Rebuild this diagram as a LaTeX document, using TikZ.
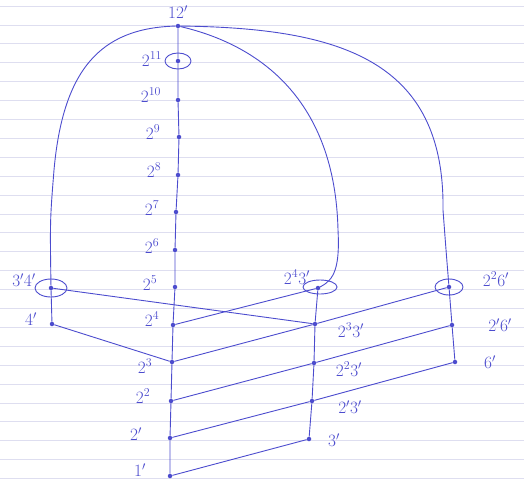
\documentclass[tikz,border=0pt]{standalone}
\usepackage{amsmath, amssymb}
\usepackage{tikz}
\usetikzlibrary{positioning}
\usepackage{xcolor}
\definecolor{ink}{RGB}{76,76,206}
\definecolor{ruleline}{RGB}{222,222,240}

\begin{document}
\begin{tikzpicture}[x=1pt, y=-1pt, every node/.style={text=ink, font=\LARGE},
    dot/.style={circle, fill=ink, inner sep=0pt, minimum size=4.5pt},
    wire/.style={draw=ink, line width=0.9pt},
    ring/.style={draw=ink, line width=0.9pt}]
                \useasboundingbox (0,0) rectangle (524,480);
                \foreach \k in {0,...,25}
                    \draw[ruleline, line width=0.7pt] (0,{6+18.9*\k}) -- (524,{6+18.9*\k});
                % chain of powers of two
                \node[dot] (n12) at (178, 26) {};
                \node[dot] (p11) at (178, 61) {};
                \node[dot] (p10) at (178, 100) {};
                \node[dot] (p9) at (179, 137) {};
                \node[dot] (p8) at (178, 175) {};
                \node[dot] (p7) at (176, 212) {};
                \node[dot] (p6) at (175, 250) {};
                \node[dot] (p5) at (175, 287) {};
                \node[dot] (p4) at (173, 325) {};
                \node[dot] (p3) at (172, 362) {};
                \node[dot] (p2) at (171, 401) {};
                \node[dot] (p1) at (170, 438) {};
                \node[dot] (n1) at (170, 476) {};
                % left, middle and right columns
                \node[dot] (n34) at (51, 288) {};
                \node[dot] (n4) at (52, 324) {};
                \node[dot] (m4) at (318, 288) {};
                \node[dot] (m3) at (315, 324) {};
                \node[dot] (m2) at (314, 363) {};
                \node[dot] (m1) at (312, 401) {};
                \node[dot] (n3) at (309, 439) {};
                \node[dot] (r2) at (449, 287) {};
                \node[dot] (r1) at (452, 325) {};
                \node[dot] (n6) at (455, 362) {};
                % labels
                \node (l12) at (178, 12) {$12'$};
                \node (l11) at (152, 59) {$2^{11}$};
                \node (l10) at (151, 95) {$2^{10}$};
                \node (l9) at (153, 132) {$2^{9}$};
                \node (l8) at (154, 170) {$2^{8}$};
                \node (l7) at (152, 208) {$2^{7}$};
                \node (l6) at (152, 246) {$2^{6}$};
                \node (l5) at (150, 283) {$2^{5}$};
                \node (l4) at (152, 319) {$2^{4}$};
                \node (l3) at (145, 366) {$2^{3}$};
                \node (l2) at (143, 396) {$2^{2}$};
                \node (l1) at (136, 434) {$2'$};
                \node (l0) at (140, 470) {$1'$};
                \node (l34) at (24, 280) {$3'4'$};
                \node (l4b) at (31, 319) {$4'$};
                \node (lm4) at (297, 277) {$2^{4}3'$};
                \node (lm3) at (351, 330) {$2^{3}3'$};
                \node (lm2) at (349, 369) {$2^{2}3'$};
                \node (lm1) at (350, 407) {$2'3'$};
                \node (l3b) at (334, 440) {$3'$};
                \node (lr2) at (496, 279) {$2^{2}6'$};
                \node (lr1) at (500, 325) {$2'6'$};
                \node (l6b) at (490, 362) {$6'$};
                % rings
                \draw[ring] (p11) ellipse [x radius=13pt, y radius=8pt];
                \draw[ring] (n34) ellipse [x radius=16pt, y radius=9pt];
                \draw[ring] (320, 287) ellipse [x radius=17pt, y radius=7pt];
                \draw[ring] (r2) ellipse [x radius=14pt, y radius=8pt];
                % connectors
                \draw[wire] (n12) -- (p11) -- (p10) -- (p9) -- (p8) -- (p7) -- (p6) -- (p5) -- (p4) -- (p3) -- (p2) -- (p1) -- (n1);
                \draw[wire] (n12) .. controls (100, 28) and (63, 70) .. (54, 170) .. controls (50, 220) .. (n34);
                \draw[wire] (n12) .. controls (260, 45) and (335, 100) .. (338, 230) .. controls (340, 268) and (334, 280) .. (m4);
                \draw[wire] (n12) .. controls (340, 28) and (445, 60) .. (443, 210) .. controls (446, 250) .. (r2);
                \draw[wire] (n34) -- (n4);
                \draw[wire] (m4) -- (m3) -- (m2) -- (m1) -- (n3);
                \draw[wire] (r2) -- (r1) -- (n6);
                \draw[wire] (n34) -- (m3);
                \draw[wire] (n4) -- (p3);
                \draw[wire] (p4) -- (m4);
                \draw[wire] (p3) -- (m3) -- (r2);
                \draw[wire] (p2) -- (m2) -- (r1);
                \draw[wire] (p1) -- (m1) -- (n6);
                \draw[wire] (n1) -- (n3);
            \end{tikzpicture}
\end{document}
